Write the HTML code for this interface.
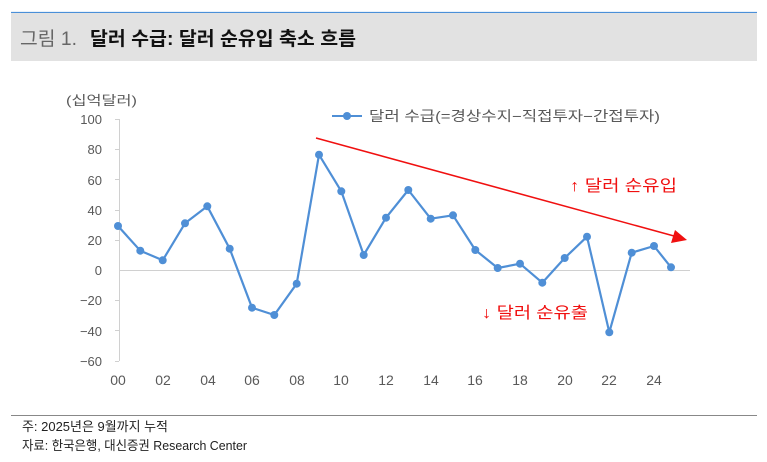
<!DOCTYPE html>
<html><head><meta charset="utf-8"><style>
body{margin:0;width:767px;height:462px;background:#fff;overflow:hidden;font-family:"Liberation Sans","Noto Sans CJK KR",sans-serif}
</style></head><body>
<svg width="767" height="462" xmlns="http://www.w3.org/2000/svg" style="position:absolute;left:0;top:0;font-family:'Liberation Sans','Noto Sans CJK KR',sans-serif">
<line x1="11" y1="12.5" x2="757" y2="12.5" stroke="#4a8fd8" stroke-width="1.2"/>
<rect x="11" y="13" width="746" height="48" fill="#e2e2e2"/>
<text x="20" y="45" font-size="19" fill="#666" textLength="57" lengthAdjust="spacingAndGlyphs">그림 1.</text>
<text x="90" y="45" font-size="19" font-weight="bold" fill="#111" textLength="266" lengthAdjust="spacingAndGlyphs">달러 수급: 달러 순유입 축소 흐름</text>
<text x="66" y="105" font-size="13" fill="#595959" textLength="71" lengthAdjust="spacingAndGlyphs">(십억달러)</text>
<g font-size="13" fill="#595959" text-anchor="end">
<text x="102" y="124">100</text><text x="102" y="154">80</text><text x="102" y="185">60</text><text x="102" y="215">40</text><text x="102" y="245">20</text><text x="102" y="275">0</text><text x="102" y="305">−20</text><text x="102" y="336">−40</text><text x="102" y="366">−60</text>
</g>
<g stroke="#d0d0d0" stroke-width="1">
<line x1="119.5" y1="119" x2="119.5" y2="361"/>
<line x1="115" y1="119.5" x2="119" y2="119.5"/><line x1="115" y1="149.5" x2="119" y2="149.5"/><line x1="115" y1="179.5" x2="119" y2="179.5"/><line x1="115" y1="210.5" x2="119" y2="210.5"/><line x1="115" y1="240.5" x2="119" y2="240.5"/><line x1="115" y1="300.5" x2="119" y2="300.5"/><line x1="115" y1="330.5" x2="119" y2="330.5"/><line x1="115" y1="361.5" x2="119" y2="361.5"/>
<line x1="119" y1="270.5" x2="690" y2="270.5"/>
</g>
<g font-size="14" fill="#595959" text-anchor="middle">
<text x="118" y="385">00</text><text x="163" y="385">02</text><text x="208" y="385">04</text><text x="252" y="385">06</text><text x="297" y="385">08</text><text x="341" y="385">10</text><text x="386" y="385">12</text><text x="431" y="385">14</text><text x="475" y="385">16</text><text x="520" y="385">18</text><text x="565" y="385">20</text><text x="609" y="385">22</text><text x="654" y="385">24</text>
</g>
<line x1="332" y1="116" x2="362" y2="116" stroke="#4f8fd6" stroke-width="2"/>
<circle cx="347" cy="116" r="4" fill="#4f8fd6"/>
<text x="369" y="121" font-size="14" fill="#595959" textLength="291" lengthAdjust="spacingAndGlyphs">달러 수급(=경상수지−직접투자−간접투자)</text>
<polyline fill="none" stroke="#4f8fd6" stroke-width="2.2" stroke-linejoin="round" points="118,226 140.3,250.7 162.7,260.3 185,223.3 207.3,206.3 229.7,248.7 252,307.7 274.3,315 296.7,283.7 319,154.7 341.3,191.3 363.7,255 386,217.7 408.3,190 430.7,218.7 453,215.3 475.3,250 497.7,268 520,263.7 542.3,282.7 564.7,258 587,236.7 609.3,332.3 631.7,252.7 654,246 671,267.3"/>
<g fill="#4f8fd6">
<circle cx="118" cy="226" r="4"/><circle cx="140.3" cy="250.7" r="4"/><circle cx="162.7" cy="260.3" r="4"/><circle cx="185" cy="223.3" r="4"/><circle cx="207.3" cy="206.3" r="4"/><circle cx="229.7" cy="248.7" r="4"/><circle cx="252" cy="307.7" r="4"/><circle cx="274.3" cy="315" r="4"/><circle cx="296.7" cy="283.7" r="4"/><circle cx="319" cy="154.7" r="4"/><circle cx="341.3" cy="191.3" r="4"/><circle cx="363.7" cy="255" r="4"/><circle cx="386" cy="217.7" r="4"/><circle cx="408.3" cy="190" r="4"/><circle cx="430.7" cy="218.7" r="4"/><circle cx="453" cy="215.3" r="4"/><circle cx="475.3" cy="250" r="4"/><circle cx="497.7" cy="268" r="4"/><circle cx="520" cy="263.7" r="4"/><circle cx="542.3" cy="282.7" r="4"/><circle cx="564.7" cy="258" r="4"/><circle cx="587" cy="236.7" r="4"/><circle cx="609.3" cy="332.3" r="4"/><circle cx="631.7" cy="252.7" r="4"/><circle cx="654" cy="246" r="4"/><circle cx="671" cy="267.3" r="4"/>
</g>
<line x1="316" y1="138" x2="674" y2="236" stroke="#f01010" stroke-width="1.5"/>
<polygon points="687,240 671,243 675,230" fill="#f01010"/>
<text x="570" y="191" font-size="16" fill="#f01010" textLength="107" lengthAdjust="spacingAndGlyphs">↑ 달러 순유입</text>
<text x="482" y="318" font-size="16" fill="#f01010" textLength="106" lengthAdjust="spacingAndGlyphs">↓ 달러 순유출</text>
<line x1="11" y1="415.5" x2="757" y2="415.5" stroke="#888" stroke-width="1"/>
<text x="22" y="431" font-size="13" fill="#222" textLength="146" lengthAdjust="spacingAndGlyphs">주: 2025년은 9월까지 누적</text>
<text x="22" y="450" font-size="13" fill="#222" textLength="225" lengthAdjust="spacingAndGlyphs">자료: 한국은행, 대신증권 Research Center</text>
</svg>
</body></html>
